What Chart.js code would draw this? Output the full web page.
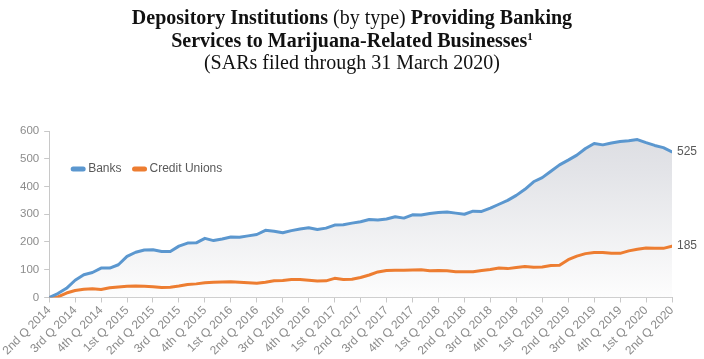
<!DOCTYPE html>
<html>
<head>
<meta charset="utf-8">
<script src="https://cdn.jsdelivr.net/npm/chart.js@4.4.1/dist/chart.umd.min.js"></script>
<style>
  html, body { margin: 0; padding: 0; background: #fff; }
  #wrap { position: relative; width: 704px; height: 359px; }
  #title {
    position: absolute; left: 0; top: 6px; width: 704px;
    text-align: center; font-family: "Liberation Serif", serif;
    font-size: 20px; line-height: 22.5px; color: #111;
  }
  #title sup { font-size: 11px; line-height: 0; vertical-align: 7px; }
  #box { position: absolute; left: 0; top: 0; width: 704px; height: 359px; }
</style>
</head>
<body>
<div id="wrap">
  <div id="box"><canvas id="chart"></canvas></div>
  <div id="title">
    <b>Depository Institutions</b> (by type) <b>Providing Banking</b><br>
    <b>Services to Marijuana-Related Businesses<sup>1</sup></b><br>
    (SARs filed through 31 March 2020)
  </div>
</div>
<script>
// quarter tick labels, one every three monthly points
const quarters = ['2nd Q 2014', '3rd Q 2014', '4th Q 2014', '1st Q 2015', '2nd Q 2015', '3rd Q 2015',
  '4th Q 2015', '1st Q 2016', '2nd Q 2016', '3rd Q 2016', '4th Q 2016', '1st Q 2017', '2nd Q 2017',
  '3rd Q 2017', '4th Q 2017', '1st Q 2018', '2nd Q 2018', '3rd Q 2018', '4th Q 2018', '1st Q 2019',
  '2nd Q 2019', '3rd Q 2019', '4th Q 2019', '1st Q 2020', '2nd Q 2020']

// monthly counts
const banks = [0, 14, 33, 62, 82, 90, 106, 106, 118, 148, 163, 171, 172, 166, 166, 185, 196, 197,
  213, 205, 211, 218, 217, 222, 227, 242, 239, 233, 241, 247, 251, 245, 250, 261, 262, 268,
  273, 281, 279, 283, 291, 286, 298, 297, 303, 306, 308, 304, 300, 311, 310, 322, 336, 350,
  368, 390, 417, 432, 455, 478, 495, 513, 537, 555, 550, 557, 562, 565, 569, 558, 548, 540, 525]

const creditUnions = [0, 2, 16, 25, 30, 31, 29, 35, 38, 40, 41, 40, 39, 36, 37, 41, 47, 49,
  53, 55, 56, 57, 55, 53, 51, 55, 60, 61, 65, 65, 62, 59, 60, 69, 65, 66,
  72, 81, 92, 97, 98, 98, 99, 100, 96, 97, 96, 93, 93, 93, 97, 101, 106, 104,
  108, 112, 109, 110, 115, 116, 136, 149, 158, 162, 162, 159, 159, 168, 174, 178, 177, 177, 185]

const seriesNames = ['Banks', 'Credit Unions']
const seriesColors = ['#5b97cf', '#ed7d31']

const toPoints = (arr) => arr.map((v, i) => ({ x: i, y: v }))
const grey = '#8c8c8c'

// legend drawn inside the plot area
const innerLegend = {
  id: 'innerLegend',
  afterDraw(chart) {
    const ctx = chart.ctx
    const area = chart.chartArea
    let x = area.left + 24
    const y = area.top + 38
    ctx.save()
    ctx.font = '12px "Liberation Sans", sans-serif'
    ctx.textBaseline = 'middle'
    chart.data.datasets.forEach((ds) => {
      ctx.strokeStyle = ds.borderColor
      ctx.lineWidth = 5
      ctx.lineCap = 'round'
      ctx.beginPath()
      ctx.moveTo(x, y)
      ctx.lineTo(x + 10, y)
      ctx.stroke()
      ctx.fillStyle = '#595959'
      ctx.fillText(ds.label, x + 15, y)
      x += 15 + ctx.measureText(ds.label).width + 13
    })
    ctx.restore()
  }
}

// last value printed at the end of each line
const endLabels = {
  id: 'endLabels',
  afterDatasetsDraw(chart) {
    const ctx = chart.ctx
    ctx.save()
    ctx.font = '12px "Liberation Sans", sans-serif'
    ctx.fillStyle = '#595959'
    ctx.textBaseline = 'middle'
    chart.data.datasets.forEach((ds, i) => {
      const meta = chart.getDatasetMeta(i)
      const last = meta.data[meta.data.length - 1]
      ctx.fillText(ds.data[ds.data.length - 1].y, last.x + 5, last.y)
    })
    ctx.restore()
  }
}

const ctx = document.getElementById('chart')

new Chart(ctx, {
  type: 'line',
  data: {
    datasets: [
      {
        label: seriesNames[0],
        data: toPoints(banks),
        borderColor: seriesColors[0],
        borderWidth: 3,
        fill: 'origin',
        backgroundColor: (c) => {
          const area = c.chart.chartArea
          if (!area) return '#eee'
          const g = c.chart.ctx.createLinearGradient(0, area.top, 0, area.bottom)
          g.addColorStop(0, '#dcdde2')
          g.addColorStop(0.25, '#e3e4e8')
          g.addColorStop(1, '#fdfdfd')
          return g
        },
      },
      {
        label: seriesNames[1],
        data: toPoints(creditUnions),
        borderColor: seriesColors[1],
        borderWidth: 3,
        fill: false,
      },
    ],
  },
  options: {
    responsive: true,
    maintainAspectRatio: false,
    animation: false,
    layout: { padding: { top: 131, right: 32, left: 15, bottom: 0 } },
    elements: {
      point: { radius: 0 },
      line: { tension: 0, borderJoinStyle: 'round', borderCapStyle: 'round' },
    },
    plugins: {
      legend: { display: false },
      tooltip: { enabled: false },
      filler: { drawTime: 'beforeDatasetsDraw' },
    },
    scales: {
      x: {
        type: 'linear',
        min: 0,
        max: 72,
        grid: { drawOnChartArea: false, tickLength: 5, color: '#c8c8c8' },
        border: { color: '#c8c8c8' },
        ticks: {
          stepSize: 3,
          autoSkip: false,
          maxTicksLimit: 100,
          maxRotation: 45,
          minRotation: 45,
          padding: 1,
          color: grey,
          font: { family: '"Liberation Sans", sans-serif', size: 12 },
          callback: (v) => quarters[v / 3],
        },
      },
      y: {
        min: 0,
        max: 600,
        grid: { drawOnChartArea: false, tickLength: 5, color: '#c8c8c8' },
        border: { color: '#c8c8c8' },
        ticks: {
          stepSize: 100,
          padding: 5,
          color: grey,
          font: { family: '"Liberation Sans", sans-serif', size: 11.5 },
        },
      },
    },
  },
  plugins: [innerLegend, endLabels],
})
</script>
</body>
</html>
